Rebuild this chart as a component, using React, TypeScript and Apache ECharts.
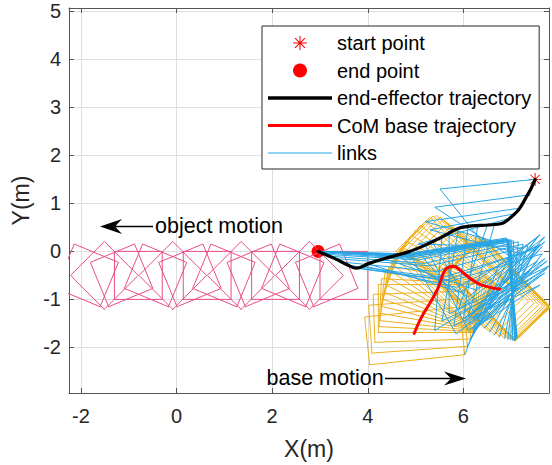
import React, { useEffect, useRef } from 'react';
import * as echarts from 'echarts';

const FONT = '"Liberation Sans", Arial, Helvetica, sans-serif';

// ---- axes ----
const xMin = -2.25;
const xMax = 7.79;
const yMin = -2.95;
const yMax = 5.07;

// ---- legend labels ----
const legendNames = ['start point', 'end point', 'end-effector trajectory', 'CoM base trajectory', 'links'];

// ---- end-effector trajectory ----
const eeTrajX = [7.5, 7.41, 7.32, 7.15, 6.97, 6.8, 6.52, 6.17, 5.9, 5.55, 5.2, 4.85, 4.35, 4.0, 3.76, 3.59, 3.31, 2.96];
const eeTrajY = [1.5, 1.3, 1.14, 0.86, 0.69, 0.58, 0.55, 0.53, 0.48, 0.3, 0.13, -0.01, -0.15, -0.26, -0.35, -0.29, -0.15, 0.0];

// ---- CoM base trajectory ----
const comX = [4.97, 5.13, 5.34, 5.48, 5.58, 5.65, 5.79, 5.93, 6.1, 6.31, 6.52, 6.76];
const comY = [-1.71, -1.36, -1.01, -0.74, -0.46, -0.35, -0.31, -0.39, -0.53, -0.67, -0.74, -0.79];

// ---- start / end points ----
const startPoint = [7.5, 1.5];
const endPoint = [2.96, 0.0];

// ---- object (square, side 1 m) poses ----
const objSide = 1.0;
const objCx = [3.5, 3.14, 2.78, 2.43, 2.07, 1.71, 1.35, 0.99, 0.64, 0.28, -0.08, -0.44, -0.8, -1.15, -1.51, -1.87];
const objCy = [-0.5, -0.5, -0.5, -0.5, -0.5, -0.5, -0.5, -0.5, -0.5, -0.5, -0.5, -0.5, -0.5, -0.5, -0.5, -0.5];
const objAngle = [0, 22.5, 45, 67.5, 0, 22.5, 45, 67.5, 0, 22.5, 45, 67.5, 0, 22.5, 45, 67.5];

// ---- base (rectangle 2 m x 1 m) poses ----
const baseLen = 2.0;
const baseWid = 1.0;
const baseCx = [
  4.98, 5.05, 5.13, 5.22, 5.26, 5.3, 5.34, 5.38, 5.41, 5.45, 5.48, 5.52, 5.55, 5.58, 5.62, 5.65, 5.72, 5.79, 5.86, 5.93,
  6.02, 6.1, 6.2, 6.31, 6.42, 6.52, 6.6, 6.65, 6.7, 6.73, 6.74, 6.74, 6.75, 6.73, 6.74, 6.75, 6.73,
];
const baseCy = [
  -1.76, -1.55, -1.36, -1.19, -1.12, -1.05, -0.97, -0.9, -0.83, -0.76, -0.68, -0.6, -0.53, -0.47, -0.41, -0.35, -0.32, -0.31,
  -0.34, -0.39, -0.46, -0.53, -0.6, -0.67, -0.71, -0.74, -0.76, -0.77, -0.78, -0.78, -0.79, -0.8, -0.79, -0.8, -0.78, -0.8,
  -0.79,
];
const baseAngle = [
  6, 4, 2, 0, -3, -6, -10, -14, -18, -22, -26, -30, -34, -38, -42, -45, -45, -45, -45, -45, -45, -46, -46, -46, -46, -46, -46,
  -46, -46, -46, -46, -45, -47, -46, -45, -46.5, -45.5,
];

// ---- links (shoulder -> joint1 -> joint2 -> end effector) ----
const linkSX = [
  6.03, 6.08, 6.15, 6.2, 6.22, 6.24, 6.23, 6.23, 6.2, 6.19, 6.14, 6.1, 6.06, 6.05, 6.0, 6.05, 6.14, 6.2, 6.28, 6.35, 6.44,
  6.55, 6.65, 6.75, 6.86, 6.93, 6.99, 7.03, 7.07, 7.08, 7.09, 7.1, 7.1, 7.11, 7.12, 7.12,
];
const linkSY = [
  -2.15, -1.98, -1.82, -1.75, -1.69, -1.65, -1.64, -1.63, -1.62, -1.6, -1.53, -1.5, -1.48, -1.45, -1.41, -1.4, -1.37, -1.4,
  -1.45, -1.5, -1.6, -1.68, -1.74, -1.78, -1.81, -1.83, -1.84, -1.85, -1.85, -1.85, -1.84, -1.82, -1.8, -1.8, -1.78, -1.76,
];
const linkJ1X = [
  6.75, 7.05, 7.2, 7.2, 7.05, 7.7, 7.55, 7.75, 7.6, 7.35, 7.4, 7.8, 7.7, 7.65, 7.75, 7.7, 7.6, 7.7, 7.55, 7.6, 7.65, 7.55,
  7.5, 7.35, 7.25, 7.15, 7.05, 7.0, 6.97, 6.93, 6.92, 6.91, 6.95, 6.92, 6.9, 6.94,
];
const linkJ1Y = [
  -0.25, -0.15, 0.05, -0.05, 0.1, -0.15, -0.2, -0.35, -0.7, -0.6, -0.4, -0.3, -0.45, 0.1, -0.2, 0.2, 0.35, 0.3, 0.3, 0.15,
  -0.05, 0.1, 0.05, 0.12, 0.15, 0.2, 0.22, 0.24, 0.24, 0.23, 0.24, 0.26, 0.2, 0.25, 0.28, 0.24,
];
const linkJ2X = [
  5.51, 5.4, 5.2, 5.3, 5.05, 6.1, 5.9, 6.0, 5.8, 5.55, 5.4, 5.7, 6.1, 6.3, 5.85, 6.0, 6.25, 6.1, 5.95, 5.85, 5.74, 5.65,
  5.55, 5.42, 5.3, 5.18, 5.05, 4.98, 4.92, 4.86, 4.84, 4.85, 4.88, 4.83, 4.82, 4.84,
];
const linkJ2Y = [
  1.3, 0.92, 0.62, 0.45, 0.15, -1.35, -1.2, -1.4, -1.55, -1.45, -1.65, -1.3, -1.65, -1.4, -1.72, -1.1, -0.8, -0.95, -0.85,
  -0.75, -0.62, -0.6, -0.55, -0.42, -0.3, -0.25, -0.18, -0.15, -0.12, -0.1, -0.08, -0.06, -0.12, -0.09, -0.05, -0.07,
];
const linkEX = [
  7.5, 7.4, 7.18, 7.05, 6.97, 6.65, 6.5, 6.3, 6.1, 5.9, 5.55, 5.7, 5.2, 5.35, 4.85, 5.0, 4.35, 4.6, 4.0, 3.9, 3.76, 3.68,
  3.59, 3.45, 3.31, 3.2, 3.1, 3.03, 2.98, 2.96, 2.96, 2.96, 2.96, 2.96, 2.96, 2.96,
];
const linkEY = [
  1.5, 1.18, 0.9, 0.78, 0.69, 0.56, 0.55, 0.54, 0.52, 0.48, 0.3, 0.42, 0.13, 0.2, -0.01, 0.05, -0.15, -0.08, -0.26, -0.3,
  -0.35, -0.33, -0.29, -0.22, -0.15, -0.1, -0.06, -0.03, -0.01, 0.0, 0.0, 0.0, 0.0, 0.0, 0.0, 0.0,
];

// ---- colours ----
const C_OBJ = '#e94c89';
const C_BASE = '#edb120';
const C_LINK = '#27a5e6';
const C_RED = '#ff0000';
const C_BLACK = '#000000';

const ASTERISK =
  'path://M7.4,0h1.2v16h-1.2z M0,7.4h16v1.2h-16z M2.72,1.88L14.12,13.28L13.28,14.12L1.88,2.72z M13.28,1.88L14.12,2.72L2.72,14.12L1.88,13.28z';

function rectCorners(cx: number, cy: number, angDeg: number, len: number, wid: number) {
  const a = (angDeg * Math.PI) / 180;
  const c = Math.cos(a);
  const s = Math.sin(a);
  const hl = len / 2;
  const hw = wid / 2;
  const loc = [
    [-hl, -hw],
    [hl, -hw],
    [hl, hw],
    [-hl, hw],
    [-hl, -hw],
  ];
  return loc.map(([u, v]) => [cx + u * c - v * s, cy + u * s + v * c]);
}

function polySeries(name: string, data: number[][], color: string, width: number, smooth: number | boolean = false) {
  return {
    type: 'line',
    name,
    data,
    symbol: 'none',
    showSymbol: false,
    smooth,
    silent: true,
    clip: true,
    lineStyle: { color, width, cap: 'round', join: 'round' },
    itemStyle: { color },
    emphasis: { disabled: true },
  };
}

function buildOption() {
  const series: any[] = [];
  objCx.forEach((cx, i) => {
    series.push(polySeries('object', rectCorners(cx, objCy[i], objAngle[i], objSide, objSide), C_OBJ, 1));
  });
  baseCx.forEach((cx, i) => {
    series.push(polySeries('base', rectCorners(cx, baseCy[i], baseAngle[i], baseLen, baseWid), C_BASE, 1));
  });
  linkSX.forEach((sx, i) => {
    series.push(
      polySeries(
        'links',
        [
          [sx, linkSY[i]],
          [linkJ1X[i], linkJ1Y[i]],
          [linkJ2X[i], linkJ2Y[i]],
          [linkEX[i], linkEY[i]],
        ],
        C_LINK,
        1
      )
    );
  });
  series.push(
    polySeries(
      'CoM base trajectory',
      comX.map((x, i) => [x, comY[i]]),
      C_RED,
      3,
      0.4
    )
  );
  series.push(
    polySeries(
      'end-effector trajectory',
      eeTrajX.map((x, i) => [x, eeTrajY[i]]),
      C_BLACK,
      3.2,
      0.35
    )
  );
  series.push({
    type: 'scatter',
    name: 'end point',
    data: [endPoint],
    symbol: 'circle',
    symbolSize: 13,
    itemStyle: { color: C_RED, opacity: 1 },
    silent: true,
  });
  series.push({
    type: 'scatter',
    name: 'start point',
    data: [startPoint],
    symbol: ASTERISK,
    symbolSize: 13,
    itemStyle: { color: C_RED, opacity: 1 },
    silent: true,
  });

  const intLabel = (v: number) => (Math.abs(v - Math.round(v)) < 1e-6 ? String(Math.round(v)) : '');

  const axisLine = { show: true, onZero: false, lineStyle: { color: '#555555', width: 1 } };
  const tick = { show: true, inside: true, length: 5, lineStyle: { color: '#555555', width: 1 } };

  const legendIcons = ['', '', 'path://M0,0h64v3.4h-64z', 'path://M0,0h64v3h-64z', 'path://M0,0h64v1h-64z'];
  const legendData = legendNames.map((n, i) => (legendIcons[i] ? { name: n, icon: legendIcons[i] } : { name: n }));

  return {
    animation: false,
    backgroundColor: '#ffffff',
    textStyle: { fontFamily: FONT },
    grid: { left: 69, top: 8, right: 1, bottom: 72, containLabel: false },
    xAxis: [
      {
        type: 'value',
        min: xMin,
        max: xMax,
        splitNumber: 5,
        minInterval: 2,
        maxInterval: 2,
        position: 'bottom',
        name: 'X(m)',
        nameLocation: 'middle',
        nameGap: 44,
        nameTextStyle: { fontSize: 23, color: '#262626', fontFamily: FONT },
        axisLine,
        axisTick: tick,
        axisLabel: { fontSize: 20, color: '#262626', margin: 13, fontFamily: FONT, formatter: intLabel },
        splitLine: { show: true, lineStyle: { color: '#dfdfdf', width: 1 } },
      },
      {
        type: 'value',
        min: xMin,
        max: xMax,
        splitNumber: 5,
        minInterval: 2,
        maxInterval: 2,
        position: 'top',
        axisLine,
        axisTick: tick,
        axisLabel: { show: false },
        splitLine: { show: false },
      },
    ],
    yAxis: [
      {
        type: 'value',
        min: yMin,
        max: yMax,
        splitNumber: 8,
        minInterval: 1,
        maxInterval: 1,
        position: 'left',
        name: 'Y(m)',
        nameLocation: 'middle',
        nameGap: 37,
        nameTextStyle: { fontSize: 23, color: '#262626', fontFamily: FONT },
        axisLine,
        axisTick: tick,
        axisLabel: { fontSize: 20, color: '#262626', margin: 8, fontFamily: FONT, formatter: intLabel },
        splitLine: { show: true, lineStyle: { color: '#dfdfdf', width: 1 } },
      },
      {
        type: 'value',
        min: yMin,
        max: yMax,
        splitNumber: 8,
        minInterval: 1,
        maxInterval: 1,
        position: 'right',
        axisLine,
        axisTick: tick,
        axisLabel: { show: false },
        splitLine: { show: false },
      },
    ],
    legend: {
      data: legendData,
      orient: 'vertical',
      left: 262,
      top: 26,
      padding: [7, 8, 6, 6],
      itemWidth: 64,
      itemHeight: 14,
      itemGap: 7.5,
      selectedMode: false,
      backgroundColor: '#ffffff',
      borderColor: '#262626',
      borderWidth: 1,
      borderRadius: 0,
      textStyle: { fontSize: 20, lineHeight: 20, color: '#000000', fontFamily: FONT },
    },
    graphic: [
      {
        type: 'text',
        x: 155,
        y: 225.5,
        z: 100,
        style: { text: 'object motion', fontSize: 21.5, fontFamily: FONT, fill: '#000', verticalAlign: 'middle', align: 'left' },
      },
      { type: 'line', z: 100, shape: { x1: 114, y1: 226.5, x2: 153, y2: 226.5 }, style: { stroke: '#000', lineWidth: 1.3 } },
      {
        type: 'polygon',
        z: 100,
        shape: { points: [[100, 226.5], [122, 219], [115, 226.5], [122, 234]] },
        style: { fill: '#000' },
      },
      {
        type: 'text',
        x: 266.5,
        y: 377.5,
        z: 100,
        style: { text: 'base motion', fontSize: 21.5, fontFamily: FONT, fill: '#000', verticalAlign: 'middle', align: 'left' },
      },
      { type: 'line', z: 100, shape: { x1: 385, y1: 378.5, x2: 452, y2: 378.5 }, style: { stroke: '#000', lineWidth: 1.3 } },
      {
        type: 'polygon',
        z: 100,
        shape: { points: [[466, 378.5], [444, 371.5], [451, 378.5], [444, 385.5]] },
        style: { fill: '#000' },
      },
    ],
    series,
  };
}

export default function App() {
  const ref = useRef<HTMLDivElement>(null);
  useEffect(() => {
    if (!ref.current) return;
    const chart = echarts.init(ref.current, null, { renderer: 'svg' });
    chart.setOption(buildOption() as any);
    return () => chart.dispose();
  }, []);
  return <div ref={ref} style={{ position: 'absolute', left: 0, top: 0, width: 552, height: 465, background: '#fff' }} />;
}
